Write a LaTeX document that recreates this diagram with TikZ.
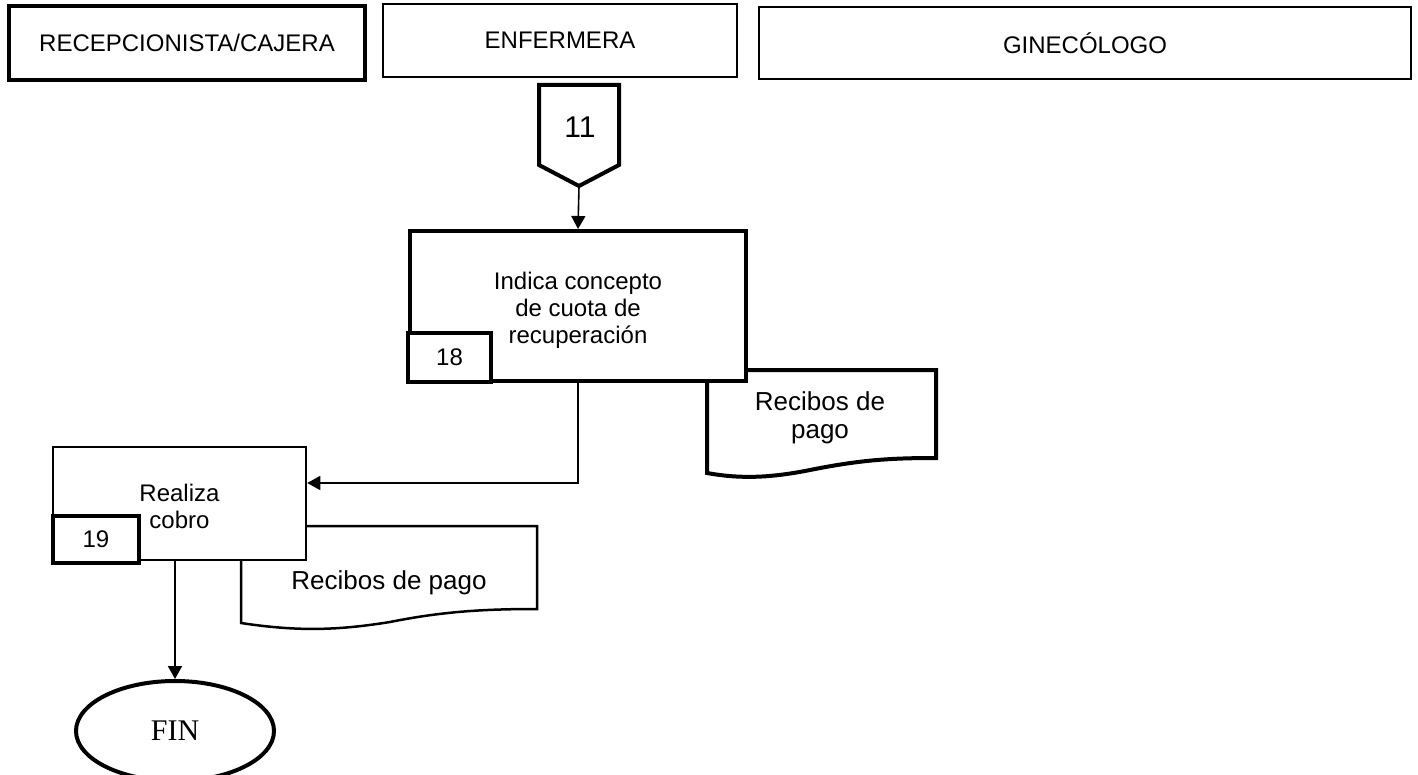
\documentclass[tikz,border=0pt]{standalone}
\usepackage{fontspec}
\setmainfont{Liberation Sans}
\newfontfamily\finfont{Liberation Serif}
\usetikzlibrary{arrows.meta,shapes.geometric}
\begin{document}
\begin{tikzpicture}[x=0.5pt,y=-0.5pt,
  every node/.style={font=\fontsize{12}{13.5}\selectfont},
  thickbox/.style={draw, line width=2pt, fill=white, inner sep=0pt, rectangle, align=center},
  thinbox/.style={draw, line width=1.25pt, fill=white, inner sep=0pt, rectangle, align=center},
  docthick/.style={draw, fill=white, line width=2pt, line join=miter},
  docthin/.style={draw, fill=white, line width=1.25pt, line join=miter},
  doctext/.style={font=\fontsize{13}{14}\selectfont, align=center, inner sep=0pt},
  label/.style={align=center, inner sep=0pt},
  conn/.style={line width=0.8pt, -{Triangle[length=6.5pt,width=7pt]}},
  ]
\useasboundingbox (0,0) rectangle (1418,775);

% lane headers
\node[thickbox, minimum width=178pt, minimum height=37pt] (recep) at (187,43) {RECEPCIONISTA/CAJERA};
\node[thinbox, minimum width=177pt, minimum height=36.5pt] (enf) at (560,40.5) {ENFERMERA};
\node[thinbox, minimum width=326pt, minimum height=36pt] (gine) at (1085,43) {GINECÓLOGO};

% off-page connector 11
\draw[line width=2pt, line join=miter] (539,85) -- (619,85) -- (619,165) -- (579,186) -- (539,165) -- cycle;
\node (c11) at (580,127) {\fontsize{15}{18}\selectfont 11};
\coordinate (tip11) at (579,186);

% documents (drawn first, boxes overlap them)
\draw[docthick] (707,370) -- (936,370) -- (936,458)
  .. controls (890,458) and (860,460) .. (810,470)
  .. controls (770,478) and (740,479) .. (707,473) -- cycle;
\node[doctext] (doc1) at (820,418) {Recibos de\\pago};

\draw[docthin] (241,526) -- (537,526) -- (537,609)
  .. controls (480,609) and (440,612) .. (390,622)
  .. controls (340,630) and (300,632) .. (241,623) -- cycle;
\node[doctext] (doc2) at (389,583) {Recibos de pago};

% process boxes
\node[thickbox, minimum width=168pt, minimum height=75pt] (main) at (578,306) {};
\node[label] (mainlbl) at (578,310) {Indica concepto\\de cuota de\\recuperación};
\node[thickbox, minimum width=41.5pt, minimum height=24.5pt] (n18) at (449.5,357.5) {18};

\node[thinbox, minimum width=126.5pt, minimum height=56.5pt] (realiza) at (179.5,503.5) {};
\node[label] (realizalbl) at (179.5,506) {Realiza\\cobro};
\node[thickbox, minimum width=43pt, minimum height=23.5pt] (n19) at (96,539.5) {19};

% end
\node[ellipse, draw, line width=2pt, fill=white, minimum width=99pt, minimum height=50pt, inner sep=0pt,
      font=\finfont\fontsize{15}{18}\selectfont] (fin) at (175,731) {FIN};

% connectors
\draw[conn] (tip11) -- (main.north);
\coordinate (bend) at (578,483);
\draw[conn] (main.south) -- (bend) -- (bend -| realiza.east);
\draw[conn, line width=1pt] (fin.north |- realiza.south) -- (fin.north);
\end{tikzpicture}
\end{document}
